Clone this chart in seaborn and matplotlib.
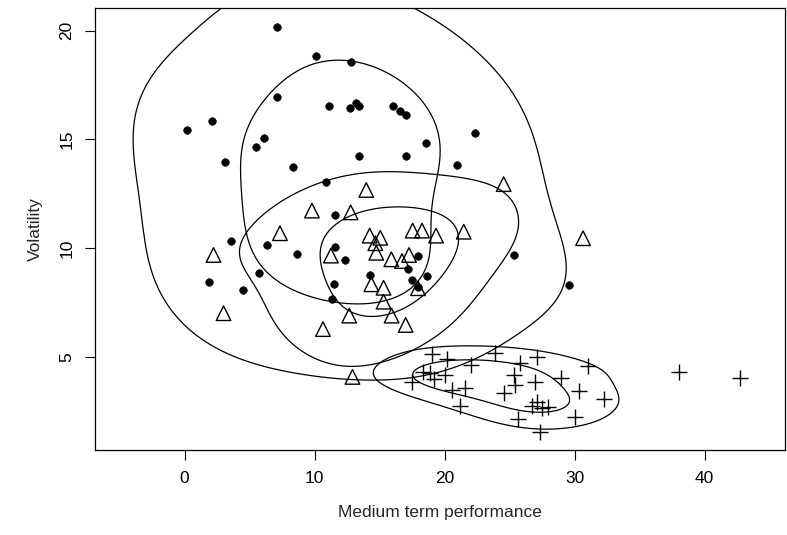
import numpy as np
import pandas as pd
import matplotlib
matplotlib.use("Agg")
import matplotlib.pyplot as plt
import seaborn as sns

# group 1: filled dots
dot_x = [7.10, 10.10, 12.79, 7.10, 11.07, 12.69, 13.20, 13.41, 2.09, 0.17,
         6.14, 5.45, 3.14, 8.35, 13.38, 10.87, 16.00, 16.59, 17.05, 22.36,
         18.57, 17.05, 20.98, 25.34, 29.58, 17.95, 17.15, 18.64, 17.51, 17.98,
         14.26, 11.56, 3.60, 6.33, 8.64, 11.56, 12.33, 5.68, 1.86, 4.52,
         11.46, 11.36]
dot_y = [20.15, 18.85, 18.54, 16.93, 16.52, 16.43, 16.66, 16.53, 15.83, 15.43,
         15.05, 14.63, 13.94, 13.73, 14.23, 13.02, 16.53, 16.32, 16.12, 15.30,
         14.82, 14.22, 13.80, 9.70, 8.30, 9.64, 9.02, 8.73, 8.53, 8.20,
         8.74, 11.53, 10.34, 10.14, 9.72, 10.03, 9.45, 8.84, 8.44, 8.07,
         8.33, 7.64]

# group 2: open triangles
tri_x = [13.97, 24.54, 9.79, 12.77, 7.33, 2.22, 14.23, 15.05, 14.67, 14.74,
         11.25, 15.90, 16.72, 17.26, 17.54, 18.26, 19.34, 21.47, 14.36, 15.30,
         17.95, 15.30, 12.66, 15.92, 17.00, 10.64, 2.99, 30.65, 12.91]
tri_y = [12.67, 12.94, 11.72, 11.64, 10.68, 9.68, 10.57, 10.47, 10.22, 9.78,
         9.65, 9.48, 9.40, 9.68, 10.80, 10.80, 10.57, 10.75, 8.33, 8.17,
         8.15, 7.53, 6.89, 6.89, 6.46, 6.27, 7.00, 10.45, 4.07]

# group 3: plus signs
plus_x = [19.03, 20.18, 23.90, 27.11, 25.78, 31.01, 22.03, 18.34, 18.90, 20.05,
          19.16, 17.49, 25.31, 26.98, 28.98, 38.01, 42.71, 25.44, 24.54, 21.59,
          20.57, 30.37, 21.15, 27.11, 26.73, 27.50, 27.96, 32.24, 25.62, 30.06,
          27.31]
plus_y = [5.12, 4.88, 5.18, 4.97, 4.70, 4.57, 4.62, 4.31, 4.24, 4.16,
          3.96, 3.85, 4.16, 3.85, 4.03, 4.31, 4.00, 3.70, 3.35, 3.55,
          3.47, 3.42, 2.73, 2.93, 2.73, 2.63, 2.67, 3.04, 2.12, 2.21,
          1.55]

dots = pd.DataFrame({"perf": dot_x, "vol": dot_y})
tris = pd.DataFrame({"perf": tri_x, "vol": tri_y})
pluses = pd.DataFrame({"perf": plus_x, "vol": plus_y})

sns.set_style("white")
plt.rcParams["font.family"] = ["Liberation Sans", "DejaVu Sans"]

fig = plt.figure(figsize=(7.87, 5.35), dpi=100)
ax = fig.add_axes([0.1207, 0.159, 0.877, 0.826])

# smooth density contours for each group
kde_kw = dict(color="black", linewidths=0.9, gridsize=200, cut=6, ax=ax)
sns.kdeplot(data=dots, x="perf", y="vol", levels=[0.12, 0.58], bw_adjust=1.45, **kde_kw)
sns.kdeplot(data=tris, x="perf", y="vol", levels=[0.27, 0.66], bw_adjust=1.35, **kde_kw)
sns.kdeplot(data=pluses, x="perf", y="vol", levels=[0.3, 0.66], bw_adjust=1.15, **kde_kw)

sns.scatterplot(data=dots, x="perf", y="vol", marker="o", s=30,
                color="black", edgecolor="black", ax=ax)
sns.scatterplot(data=tris, x="perf", y="vol", marker="^", s=110,
                facecolor="none", edgecolor="black", linewidth=1.0, ax=ax)
sns.scatterplot(data=pluses, x="perf", y="vol", marker="+", s=130,
                color="black", linewidth=1.0, ax=ax)

ax.set_xlim(-6.9, 46.2)
ax.set_ylim(0.71, 21.04)
ax.set_xticks([0, 10, 20, 30, 40])
ax.set_yticks([5, 10, 15, 20])
ax.set_yticklabels(["5", "10", "15", "20"], rotation=90, va="center")
ax.tick_params(direction="out", length=7, width=0.8, labelsize=12.5, pad=8,
               left=True, bottom=True, colors="black")
for sp in ax.spines.values():
    sp.set_visible(True)
    sp.set_color("black")
    sp.set_linewidth(0.9)
ax.set_xlabel("Medium term performance", fontsize=12.5, labelpad=14)
ax.set_ylabel("Volatility", fontsize=12.5, labelpad=12)

fig.savefig("out.png", dpi=100)
